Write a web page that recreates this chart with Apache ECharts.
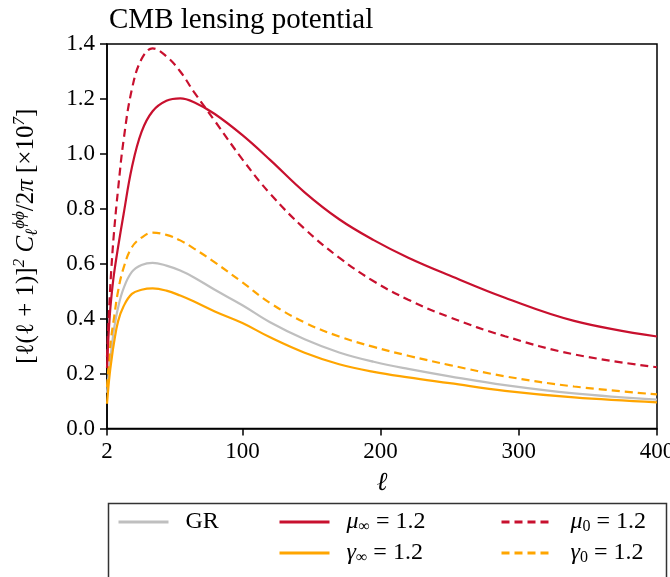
<!DOCTYPE html>
<html><head><meta charset="utf-8">
<script src="https://cdn.jsdelivr.net/npm/echarts@6/dist/echarts.min.js"></script>
<style>html,body{margin:0;padding:0;background:#fff}#c{width:670px;height:577px}</style>
</head><body><div id="c"></div>
<script>
const ell      = [2, 3, 4, 5, 7, 10, 14, 20, 27, 35, 45, 55, 65, 80, 100, 120, 145, 170, 195, 220, 250, 290, 340, 400];
const grVals   = [0.13, 0.19, 0.24, 0.28, 0.36, 0.44, 0.51, 0.57, 0.595, 0.603, 0.593, 0.575, 0.55, 0.505, 0.449, 0.387, 0.325, 0.277, 0.243, 0.217, 0.19, 0.158, 0.128, 0.105];
const muInf    = [0.22, 0.33, 0.41, 0.47, 0.56, 0.66, 0.78, 0.95, 1.08, 1.155, 1.193, 1.202, 1.188, 1.145, 1.068, 0.978, 0.86, 0.762, 0.686, 0.622, 0.557, 0.476, 0.392, 0.335];
const muZero   = [0.26, 0.38, 0.48, 0.57, 0.71, 0.87, 1.05, 1.235, 1.345, 1.384, 1.355, 1.30, 1.225, 1.12, 0.98, 0.855, 0.727, 0.622, 0.536, 0.469, 0.405, 0.336, 0.27, 0.223];
const gamInf   = [0.09, 0.15, 0.20, 0.24, 0.31, 0.39, 0.445, 0.49, 0.505, 0.51, 0.502, 0.484, 0.462, 0.426, 0.384, 0.332, 0.276, 0.234, 0.206, 0.186, 0.165, 0.137, 0.113, 0.095];
const gamZero  = [0.15, 0.22, 0.28, 0.33, 0.40, 0.50, 0.585, 0.66, 0.695, 0.713, 0.705, 0.685, 0.655, 0.605, 0.532, 0.457, 0.386, 0.335, 0.297, 0.265, 0.231, 0.19, 0.153, 0.124];
const xTicks   = [2, 100, 200, 300, 400];

const RED = '#C8102E', ORANGE = '#FFA500', GRAY = '#BFBFBF';
const FONT = "'Liberation Serif', serif";
const pairs = v => ell.map((l, i) => [l, v[i]]);

const legendNames = {
  'GR': 'GR',
  'muInf': '{i|μ}{sub|∞} = 1.2',
  'muZero': '{i|μ}{sub|0} = 1.2',
  'gamInf': '{i|γ}{sub|∞} = 1.2',
  'gamZero': '{i|γ}{sub|0} = 1.2'
};
const legendText = {
  fontFamily: FONT, fontSize: 24, color: '#000', lineHeight: 26, padding: [0, 0, 0, 12],
  rich: {
    i: {fontFamily: FONT, fontSize: 24, fontStyle: 'italic', lineHeight: 26},
    sub: {fontFamily: FONT, fontSize: 16, lineHeight: 16, verticalAlign: 'bottom'}
  }
};
function mkLegend(data, left, w) {
  return {
    data: data, left: left, top: 509, orient: 'vertical', padding: 0,
    itemWidth: w, itemHeight: 14, itemGap: 5,
    formatter: n => legendNames[n], textStyle: legendText,
    lineStyle: {width: 3}, itemStyle: {opacity: 0}, selectedMode: false
  };
}
function mkSeries(name, vals, color, dashed) {
  return {
    name: name, type: 'line', data: pairs(vals), symbol: 'none', showSymbol: false,
    smooth: 0.4,
    lineStyle: {color: color, width: 2.2, type: dashed ? [8, 5] : 'solid'},
    itemStyle: {color: color}, animation: false
  };
}

const chart = echarts.init(document.getElementById('c'), null, {renderer: 'canvas'});
chart.setOption({
  animation: false,
  backgroundColor: '#fff',
  title: {text: 'CMB lensing potential', left: 104, top: 1,
    textStyle: {fontFamily: FONT, fontSize: 29, fontWeight: 'normal', color: '#000'}},
  grid: {left: 107, right: 13, top: 44, bottom: 148.5, show: true, borderColor: '#000', borderWidth: 1.5,
    outerBoundsMode: 'none', containLabel: false},
  graphic: [{type: 'rect', shape: {x: 108.5, y: 503.5, width: 558, height: 90},
    style: {fill: '#fff', stroke: '#333', lineWidth: 1.5}, z: 0}],
  legend: [
    mkLegend(['GR'], 117, 50),
    mkLegend(['muInf', 'gamInf'], 278, 50),
    mkLegend(['muZero', 'gamZero'], 500, 52)
  ],
  xAxis: {
    type: 'value', min: 2, max: 400,
    name: 'ℓ', nameLocation: 'middle', nameGap: 42,
    nameTextStyle: {fontFamily: FONT, fontSize: 26, fontStyle: 'italic', color: '#000'},
    axisLine: {lineStyle: {color: '#000', width: 1.5}},
    axisTick: {customValues: xTicks, length: 7, lineStyle: {color: '#000', width: 1.5}},
    axisLabel: {customValues: xTicks, fontFamily: FONT, fontSize: 23, color: '#000', margin: 12},
    splitLine: {show: false}
  },
  yAxis: {
    type: 'value', min: 0, max: 1.4, interval: 0.2,
    name: '[ℓ(ℓ + 1)]{sup|2} {i|C}{sub|ℓ}{sup|ϕϕ}/2{i|π} [×10{sup|7}]',
    nameLocation: 'middle', nameGap: 66, nameRotate: 90,
    nameTextStyle: {fontFamily: FONT, fontSize: 25, color: '#000', lineHeight: 30,
      rich: {
        i: {fontFamily: FONT, fontSize: 25, fontStyle: 'italic', lineHeight: 30},
        sup: {fontFamily: FONT, fontSize: 17, fontStyle: 'italic', lineHeight: 17, verticalAlign: 'top'},
        sub: {fontFamily: FONT, fontSize: 17, fontStyle: 'italic', lineHeight: 17, verticalAlign: 'bottom'}
      }},
    axisLine: {show: true, lineStyle: {color: '#000', width: 1.5}},
    axisTick: {show: true, length: 7, lineStyle: {color: '#000', width: 1.5}},
    axisLabel: {fontFamily: FONT, fontSize: 23, color: '#000', margin: 12, formatter: v => v.toFixed(1)},
    splitLine: {show: false}
  },
  series: [
    mkSeries('GR', grVals, GRAY, false),
    mkSeries('gamInf', gamInf, ORANGE, false),
    mkSeries('gamZero', gamZero, ORANGE, true),
    mkSeries('muInf', muInf, RED, false),
    mkSeries('muZero', muZero, RED, true)
  ]
});
</script></body></html>
